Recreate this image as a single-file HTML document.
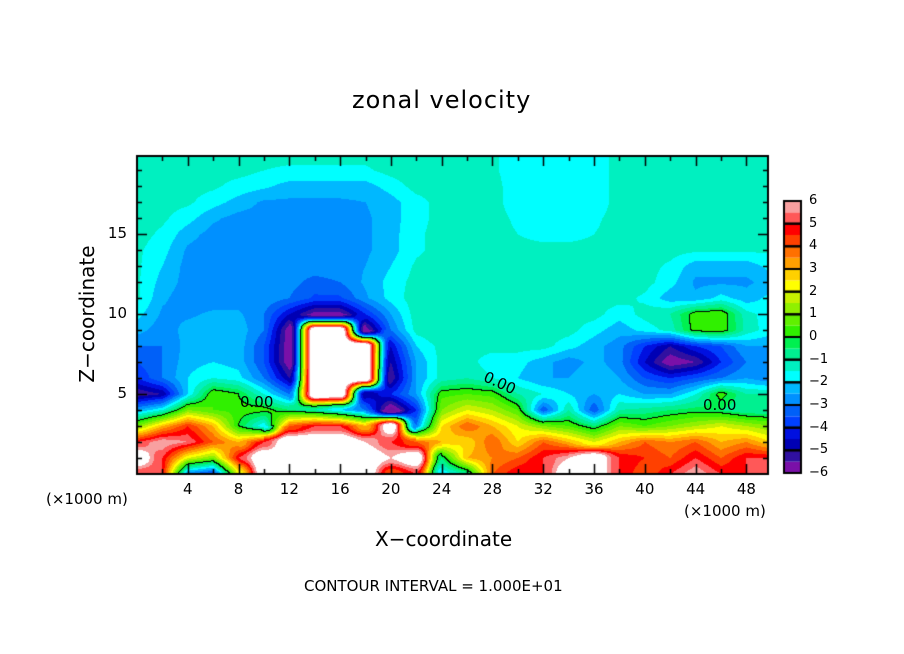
<!DOCTYPE html>
<html><head><meta charset="utf-8">
<style>
body{margin:0;background:#fff;width:904px;height:654px;overflow:hidden;font-family:"Liberation Sans",sans-serif}
#wrap{position:relative;width:904px;height:654px}
canvas{position:absolute;left:0;top:0}
.t{position:absolute;color:#000;white-space:nowrap;font-family:"DejaVu Sans","Liberation Sans",sans-serif}
</style></head>
<body>
<div id="wrap">
<canvas id="c" width="904" height="654"></canvas>
<div class="t" style="left:352px;top:86px;font-size:24px;letter-spacing:1px">zonal velocity</div>
<div class="t" style="left:375px;top:527px;font-size:20px">X−coordinate</div>
<div class="t" style="left:-8px;top:302px;font-size:20px;transform:rotate(-90deg);width:190px;text-align:center">Z−coordinate</div>
<div class="t" style="left:46px;top:490px;font-size:15px">(×1000 m)</div>
<div class="t" style="left:684px;top:502px;font-size:15px">(×1000 m)</div>
<div class="t" style="left:304px;top:577px;font-size:15px">CONTOUR INTERVAL = 1.000E+01</div>
<div class="t" style="left:240px;top:393px;font-size:15px">0.00</div>
<div class="t" style="left:483px;top:374px;font-size:15px;transform:rotate(25deg)">0.00</div>
<div class="t" style="left:703px;top:396px;font-size:15px">0.00</div>
<div id="labels"></div>
</div>
<script>
const xTicks=[4,8,12,16,20,24,28,32,36,40,44,48];
const yTicks=[5,10,15];
const cbLabels=[6,5,4,3,2,1,0,-1,-2,-3,-4,-5,-6];
const xs=[0,2,4,6,8,10,12,14,16,18,20,22,24,26,28,30,32,34,36,38,40,42,44,46,48,50];
const zs=[0,1,2,3,4,5,6,7,8,9,10,11,12,13,14,15,16,17,18,19,20];
const r0=[5,5,-3,-4,2,7,7,7,7,7,4,5,-2,-1,4,5,5,7,7,5,4,5,6,5,5,5];
const r1=[7,5,2,1,5,7,7,7,7,7,6,7,-0.5,3,3.5,4,5,6,7,5,4.5,4,5,4,5,5];
const r2=[5,6,5.5,4,3,5,7,7,7,6,5,4,3,2.5,4,2.5,4,3,2,3,4,3.5,4,3,3.5,2.5];
const r3=[1,3,4.5,3,0,-2,4,5,5,3,7,-3,2.5,4,3,2,1,0.5,-0.5,1,0.5,1,1.5,2,1.5,1];
const r4=[-2.5,-1.5,1,0.5,0.3,0.3,-0.5,-1,-2,-3,-6.5,-4,1,2,1.5,0.5,-3.5,-1,-3.5,-1,-0.8,-0.5,-0.3,-0.5,-1,-1];
const r5=[-5.5,-5,-2,0.5,0,-1.5,-3,7,7,-5,-4,-2.5,0.3,0.5,0.3,-1,-1.5,-2,-2.5,-2,-2.5,-2.5,-1.5,0.3,-1,-1];
const r6=[-4,-3,-2,-1.5,-1.8,-3,-5,7,7,7,-5.5,-2.5,-1.3,-1,-1.5,-2,-2.5,-2.5,-2,-2.5,-3.5,-4,-3.5,-3,-2.5,-3];
const r7=[-3.5,-3,-2.2,-2,-2.2,-3.5,-6,7,7,7,-5,-2.5,-1.3,-1.3,-1.8,-1.8,-2.3,-2.8,-2.3,-2.8,-4.5,-6,-5.5,-4,-3,-3];
const r8=[-3,-3,-2.3,-2,-2.2,-3.5,-6,7,7,7,-4.5,-2,-1.3,-1.3,-1.3,-1.3,-1.3,-1.8,-2.3,-2.8,-4,-5,-4,-3.5,-2.5,-2.5];
const r9=[-2.3,-2.8,-2.3,-2.2,-2.2,-3,-6,7,7,-6,-3,-1.3,-1,-1.3,-1.3,-1.3,-1.3,-1.3,-1.8,-2.3,-1.8,-1.3,0.3,0.5,-1.2,-1.8];
const r10=[-1.8,-2.6,-2.6,-2.4,-2.4,-3,-4.5,-5.8,-5.8,-4,-2.5,-1.2,-1,-1.3,-1.3,-1.3,-1.3,-1.3,-1.3,-1.8,-1.3,-1,0.3,0.5,-1.3,-1.8];
const r11=[-1.4,-2.4,-2.8,-2.8,-2.8,-2.6,-3,-3.6,-3.6,-2.6,-1.8,-1.2,-1.3,-1.3,-1.3,-1.3,-1.3,-1.3,-1.3,-1.3,-1.6,-2.3,-2.4,-1.8,-2.3,-1.8];
const r12=[-1.4,-2.2,-2.7,-2.7,-2.7,-2.7,-2.8,-3.2,-3,-2.4,-1.8,-1.3,-1.3,-1.3,-1.3,-1.3,-1.3,-1.3,-1.3,-1.3,-1.3,-1.8,-2.6,-2.6,-2.6,-2.3];
const r13=[-1.4,-2,-2.7,-2.8,-2.8,-2.8,-2.8,-2.7,-2.7,-2.5,-2,-1.4,-1.3,-1.3,-1.3,-1.3,-1.3,-1.3,-1.3,-1.3,-1.3,-1.6,-2.3,-2.3,-2.3,-1.8];
const r14=[-1.4,-1.8,-2.6,-2.8,-2.8,-2.8,-2.8,-2.8,-2.7,-2.6,-2.2,-1.6,-1.3,-1.3,-1.3,-1.3,-1.3,-1.3,-1.3,-1.3,-1.3,-1.3,-1.4,-1.4,-1.4,-1.4];
const r15=[-1.3,-1.6,-2.3,-2.7,-2.8,-2.8,-2.8,-2.8,-2.8,-2.6,-2.2,-1.6,-1.3,-1.3,-1.3,-1.5,-1.7,-1.7,-1.5,-1.3,-1.3,-1.3,-1.3,-1.3,-1.3,-1.3];
const r16=[-1.3,-1.4,-1.8,-2.4,-2.7,-2.7,-2.7,-2.7,-2.7,-2.6,-2.2,-1.7,-1.3,-1.3,-1.3,-1.6,-1.8,-1.8,-1.6,-1.3,-1.3,-1.3,-1.3,-1.3,-1.3,-1.3];
const r17=[-1.3,-1.3,-1.4,-1.8,-2.2,-2.6,-2.6,-2.6,-2.6,-2.5,-2.2,-1.7,-1.3,-1.3,-1.3,-1.8,-1.9,-1.9,-1.8,-1.3,-1.3,-1.3,-1.3,-1.3,-1.3,-1.3];
const r18=[-1.3,-1.3,-1.3,-1.4,-1.7,-1.9,-2.2,-2.2,-2.2,-2.2,-1.8,-1.3,-1.3,-1.3,-1.3,-1.8,-1.9,-1.9,-1.8,-1.3,-1.3,-1.3,-1.3,-1.3,-1.3,-1.3];
const r19=[-1.3,-1.3,-1.3,-1.3,-1.3,-1.5,-1.6,-1.6,-1.6,-1.6,-1.3,-1.1,-1.1,-1.3,-1.4,-1.8,-1.9,-1.9,-1.8,-1.3,-1.3,-1.3,-1.3,-1.3,-1.3,-1.3];
const r20=[-1.3,-1.3,-1.3,-1.3,-1.3,-1.3,-1.3,-1.3,-1.3,-1.3,-1.1,-1.1,-1.1,-1.3,-1.4,-1.8,-1.9,-1.9,-1.8,-1.3,-1.3,-1.3,-1.3,-1.3,-1.3,-1.3];
const field=[r0,r1,r2,r3,r4,r5,r6,r7,r8,r9,r10,r11,r12,r13,r14,r15,r16,r17,r18,r19,r20];
const pal=['#7a10a8','#3010a0','#0000b4','#0010e0','#0040ff','#0060f8','#0090ff','#00b8ff','#00ffff','#00f0c0','#00f090','#00f050','#30f000','#60f000','#90f000','#c8f000','#ffff00','#ffd000','#ffa000','#ff7000','#ff4000','#ff0000','#ff5858','#f8a0a0'];

const L=137,R=768,T=156,B=474;
const X0=0,X1=49.7,Z0=0,Z1=19.9;
const sx=x=>L+(x-X0)/(X1-X0)*(R-L);
const sy=z=>B-(z-Z0)/(Z1-Z0)*(B-T);
const ix=p=>X0+(p-L)/(R-L)*(X1-X0);
const iz=p=>Z0+(B-p)/(B-T)*(Z1-Z0);
function sm(t){return t*t*(3-2*t);}
function val(x,z){
  let fi=(x-xs[0])/(xs[1]-xs[0]);fi=Math.max(0,Math.min(xs.length-1.001,fi));
  let fj=(z-zs[0])/(zs[1]-zs[0]);fj=Math.max(0,Math.min(zs.length-1.001,fj));
  const i=Math.floor(fi),j=Math.floor(fj);
  let a=fi-i,b=fj-j;
  const f00=field[j][i],f10=field[j][i+1],f01=field[j+1][i],f11=field[j+1][i+1];
  if(Math.max(f00,f10,f01,f11)>=6.5){a=sm(a);b=sm(b);}
  return f00*(1-a)*(1-b)+f10*a*(1-b)+f01*(1-a)*b+f11*a*b;
}
function col(v){
  if(v>=6)return [255,255,255];
  if(v<-6)return [112,16,160];
  const h=pal[Math.floor((v+6)/0.5)];
  return [parseInt(h.substr(1,2),16),parseInt(h.substr(3,2),16),parseInt(h.substr(5,2),16)];
}
const c=document.getElementById('c'),g=c.getContext('2d');
const W=R-L,H=B-T;
const img=g.createImageData(W,H);
const vals=new Float32Array(W*H);
for(let py=0;py<H;py++)for(let px=0;px<W;px++){
  vals[py*W+px]=val(ix(L+px+0.5),iz(T+py+0.5));
}
for(let py=0;py<H;py++)for(let px=0;px<W;px++){
  const v=vals[py*W+px];let k=(py*W+px)*4;let cc=col(v);
  const r=px<W-1?vals[py*W+px+1]:v, d=py<H-1?vals[(py+1)*W+px]:v;
  if((v>=0)!==(r>=0)||(v>=0)!==(d>=0))cc=[0,0,0];
  img.data[k]=cc[0];img.data[k+1]=cc[1];img.data[k+2]=cc[2];img.data[k+3]=255;
}
g.putImageData(img,L,T);
g.strokeStyle='#000';g.lineWidth=2;g.strokeRect(L,T,W,H);
g.lineWidth=1.5;
for(let x=2;x<50;x+=2){const p=Math.round(sx(x))+0.5,len=x%4===0?10:5;
  g.beginPath();g.moveTo(p,B);g.lineTo(p,B-len);g.moveTo(p,T);g.lineTo(p,T+len);g.stroke();}
for(let z=1;z<20;z++){const p=Math.round(sy(z))+0.5,len=z%5===0?10:5;
  g.beginPath();g.moveTo(L,p);g.lineTo(L+len,p);g.moveTo(R,p);g.lineTo(R-len,p);g.stroke();}
const cx=784,cw=17,cT=201,cB=473,bh=(cB-cT)/24;
for(let k=0;k<24;k++){g.fillStyle=pal[k];g.fillRect(cx,cB-(k+1)*bh,cw,bh);}
g.lineWidth=2;g.strokeStyle='#000';
for(let k=0;k<12;k++){g.strokeRect(cx,cB-(k+1)*2*bh,cw,2*bh);}
const lab=document.getElementById('labels');
xTicks.forEach(x=>{const d=document.createElement('div');d.className='t';
 
 
 d.style.cssText='left:'+(sx(x)-20)+'px;top:480px;width:40px;text-align:center;font-size:15px';d.textContent=x;lab.appendChild(d);});
yTicks.forEach(z=>{const d=document.createElement('div');d.className='t';
 
 
 d.style.cssText='left:95px;top:'+(sy(z)-10)+'px;width:32px;text-align:right;font-size:15px';d.textContent=z;lab.appendChild(d);});
cbLabels.forEach(v=>{const d=document.createElement('div');d.className='t';
 
 
 const y=cB-(v+6)/12*(cB-cT);
 d.style.cssText='left:809px;top:'+(y-8)+'px;font-size:13px';d.textContent=(v<0?'−'+(-v):v);lab.appendChild(d);});
</script>
</body></html>
